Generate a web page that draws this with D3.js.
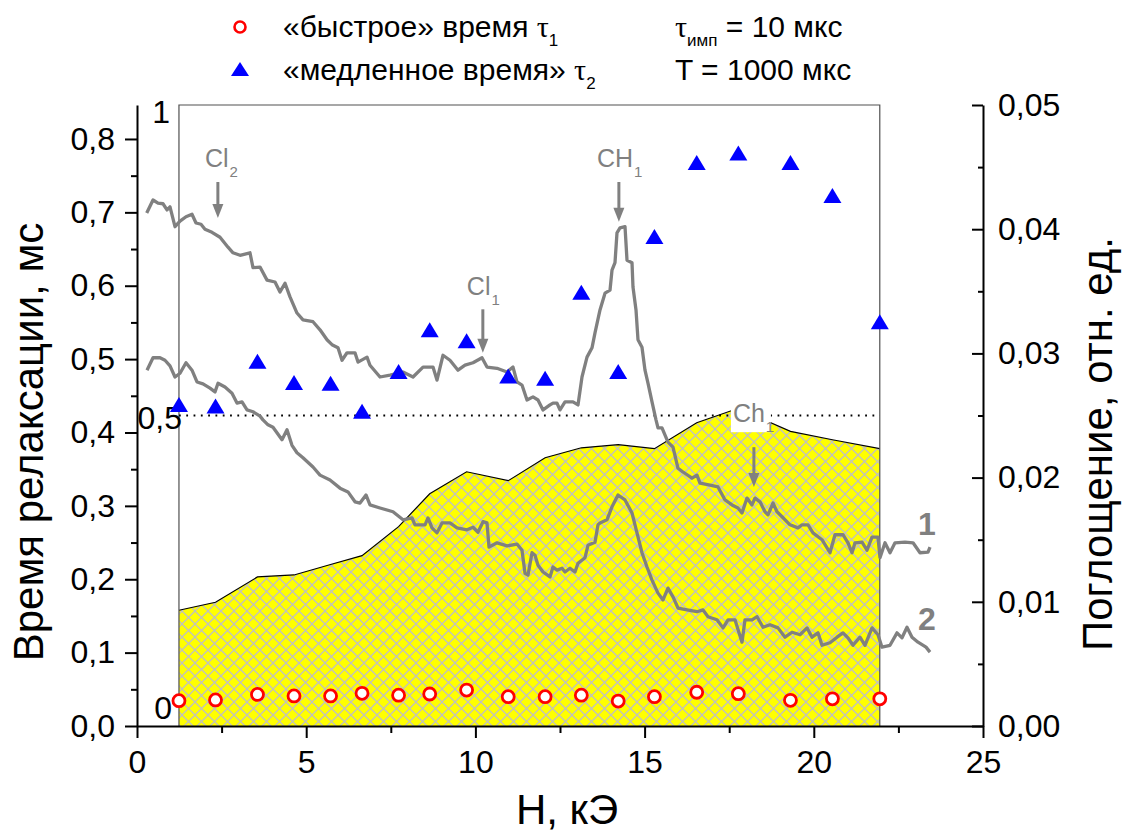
<!DOCTYPE html>
<html><head><meta charset="utf-8">
<script src="https://cdn.jsdelivr.net/npm/d3@7"></script>
<style>
body{margin:0;background:#fff}
svg{display:block}
text{font-family:"Liberation Sans",Arial,sans-serif}
</style>
</head><body>
<svg id="chart" width="1130" height="834"></svg>
<script>
// ---------------- data ----------------
const fieldKOe = [1.24, 2.32, 3.56, 4.64, 5.72, 6.65, 7.73, 8.65, 9.74, 10.97, 12.06, 13.13, 14.22, 15.29, 16.54, 17.77, 19.31, 20.55, 21.95];
const tauFast  = [0.0345, 0.0355, 0.043, 0.041, 0.041, 0.0445, 0.042, 0.0436, 0.049, 0.040, 0.040, 0.042, 0.034, 0.040, 0.046, 0.044, 0.035, 0.037, 0.037];
const tauSlow  = [0.438, 0.436, 0.497, 0.468, 0.467, 0.429, 0.483, 0.540, 0.525, 0.477, 0.474, 0.591, 0.483, 0.667, 0.768, 0.781, 0.768, 0.723, 0.551];
const absorption = [0.00932, 0.00996, 0.0120, 0.01216, 0.0130, 0.01372, 0.01605, 0.0187, 0.02047, 0.01975, 0.0216, 0.0224, 0.02265, 0.02233, 0.02442, 0.02558, 0.02372, 0.02305, 0.02233];

const curve1H = [0.287,0.473,0.621,0.768,0.887,0.975,1.123,1.271,1.448,1.625,1.744,1.891,2.009,2.216,2.453,2.689,2.837,3.044,3.339,3.428,3.635,3.842,4.078,4.226,4.374,4.521,4.728,4.905,5.201,5.408,5.615,5.762,5.940,6.058,6.206,6.442,6.531,6.797,6.885,7.181,7.476,7.861,8.156,8.452,8.747,8.865,9.043,9.249,9.486,9.693,9.929,10.195,10.343,10.638,10.934,11.111,11.229,11.377,11.525,11.702,11.850,11.998,12.204,12.293,12.411,12.500,12.648,12.884,13.032,13.150,13.298,13.446,13.534,13.682,13.830,13.978,14.037,14.125,14.184,14.273,14.421,14.480,14.628,14.657,14.746,14.805,14.923,15.012,15.100,15.219,15.337,15.396,15.514,15.691,15.839,15.987,16.135,16.401,16.548,16.637,16.933,17.169,17.376,17.583,17.760,17.878,18.026,18.174,18.262,18.410,18.558,18.647,18.794,18.913,19.061,19.297,19.533,19.652,19.829,19.976,20.242,20.479,20.626,20.863,21.011,21.129,21.218,21.425,21.572,21.720,21.897,21.956,22.104,22.252,22.400,22.695,22.932,23.138,23.375,23.434];
const curve1 = [0.826,0.847,0.842,0.841,0.831,0.836,0.804,0.813,0.820,0.824,0.810,0.808,0.800,0.795,0.787,0.771,0.762,0.758,0.762,0.738,0.739,0.718,0.715,0.699,0.713,0.691,0.665,0.654,0.651,0.638,0.622,0.614,0.609,0.589,0.601,0.601,0.586,0.594,0.581,0.562,0.565,0.570,0.562,0.578,0.578,0.557,0.597,0.589,0.573,0.581,0.585,0.593,0.578,0.576,0.570,0.578,0.554,0.549,0.525,0.530,0.525,0.509,0.517,0.520,0.520,0.509,0.522,0.522,0.517,0.562,0.594,0.609,0.633,0.670,0.697,0.702,0.734,0.746,0.794,0.802,0.804,0.750,0.746,0.707,0.670,0.622,0.610,0.573,0.552,0.522,0.493,0.480,0.480,0.457,0.449,0.415,0.409,0.399,0.404,0.391,0.388,0.385,0.364,0.356,0.351,0.343,0.367,0.356,0.367,0.361,0.345,0.340,0.359,0.345,0.337,0.324,0.319,0.324,0.324,0.311,0.300,0.279,0.308,0.308,0.295,0.279,0.295,0.296,0.283,0.304,0.304,0.271,0.295,0.279,0.295,0.296,0.295,0.279,0.280,0.288];

const curve2H = [0.296,0.473,0.680,0.827,0.975,1.123,1.271,1.448,1.625,1.773,1.950,2.157,2.305,2.394,2.600,2.807,2.955,3.103,3.251,3.428,3.635,3.723,3.871,4.019,4.285,4.433,4.580,4.728,4.905,5.201,5.408,5.703,5.999,6.235,6.442,6.590,6.767,6.885,7.181,7.565,7.861,8.126,8.215,8.511,8.599,8.717,8.865,9.013,9.249,9.456,9.752,9.929,10.077,10.225,10.343,10.402,10.638,10.934,11.229,11.377,11.466,11.554,11.673,11.761,11.850,11.998,12.204,12.293,12.411,12.559,12.648,12.796,12.943,13.032,13.239,13.327,13.534,13.623,13.682,13.889,14.037,14.214,14.421,14.628,14.775,14.923,15.071,15.219,15.396,15.544,15.691,15.839,15.987,16.253,16.548,16.726,16.873,17.139,17.317,17.465,17.671,17.878,17.967,18.174,18.322,18.499,18.706,18.942,19.149,19.356,19.593,19.799,19.947,20.124,20.242,20.479,20.686,20.863,21.011,21.158,21.365,21.513,21.720,21.897,22.015,22.252,22.459,22.607,22.754,22.902,23.079,23.316,23.434];
const curve2 = [0.573,0.593,0.593,0.589,0.580,0.562,0.568,0.585,0.573,0.554,0.551,0.544,0.538,0.552,0.546,0.536,0.520,0.522,0.509,0.506,0.499,0.493,0.485,0.481,0.461,0.477,0.452,0.440,0.432,0.417,0.404,0.396,0.383,0.377,0.361,0.359,0.372,0.356,0.351,0.345,0.332,0.335,0.324,0.324,0.335,0.319,0.311,0.327,0.327,0.319,0.316,0.320,0.312,0.329,0.327,0.288,0.295,0.290,0.293,0.283,0.246,0.243,0.279,0.275,0.259,0.248,0.240,0.256,0.251,0.254,0.248,0.254,0.248,0.262,0.271,0.291,0.296,0.324,0.327,0.332,0.353,0.372,0.364,0.343,0.311,0.279,0.256,0.235,0.214,0.203,0.222,0.208,0.190,0.187,0.184,0.187,0.176,0.171,0.158,0.171,0.171,0.135,0.171,0.171,0.176,0.159,0.163,0.158,0.143,0.151,0.147,0.158,0.143,0.150,0.130,0.134,0.143,0.150,0.142,0.130,0.143,0.130,0.158,0.147,0.127,0.130,0.150,0.142,0.159,0.143,0.135,0.127,0.119];

const xTickValues = [0, 5, 10, 15, 20, 25];
const leftTickValues = [0, 0.1, 0.2, 0.3, 0.4, 0.5, 0.6, 0.7, 0.8];
const rightTickValues = [0, 0.01, 0.02, 0.03, 0.04, 0.05];
const innerTickLabels = ["0", "0,5", "1"];
const innerTickValues = [0, 0.5, 1];

// peak annotations: label, sub, field (kOe), arrow top/bottom (inner units)
const peakNames = ["Cl", "Cl", "CH", "Ch"];
const peakSubs  = ["2", "1", "1", "1"];
const peakField = [2.39, 10.22, 14.24, 18.23];
const peakArrowTop = [0.876, 0.671, 0.876, 0.449];
const peakArrowTip = [0.818, 0.601, 0.812, 0.385];

const curveNames = ["1", "2"];

// ---------------- layout ----------------
const svg = d3.select("#chart");
const X0 = 137, X1 = 983, YB = 726, YT = 105;
const x = d3.scaleLinear().domain([0, 25]).range([X0, X1]);
const yL = d3.scaleLinear().domain([0, 0.8463]).range([YB, YT]);
const yR = d3.scaleLinear().domain([0, 0.05]).range([YB, YT]);
const yI = d3.scaleLinear().domain([0, 1]).range([YB, YT]);
const FONT = '"Liberation Sans",Arial,sans-serif';
const SERIF = '"Liberation Serif","Times New Roman",serif';
const GRAY = "#808080";

// hatch pattern
const defs = svg.append("defs");
const pat = defs.append("pattern").attr("id", "hatch").attr("patternUnits", "userSpaceOnUse")
  .attr("width", 13).attr("height", 13);
pat.append("rect").attr("width", 13).attr("height", 13).attr("fill", "#ffff00");
pat.append("path").attr("d", "M-1,-1L14,14M14,-1L-1,14").attr("stroke", "#c0c0c0").attr("stroke-width", 1.3);

// absorption area
const areaStart = fieldKOe[0], areaEnd = fieldKOe[fieldKOe.length - 1];
const absData = fieldKOe.map((h, i) => ({h, v: absorption[i]}));
svg.append("path").datum(absData)
  .attr("d", d3.area().x(d => x(d.h)).y0(yR(0)).y1(d => yR(d.v)))
  .attr("fill", "url(#hatch)");
svg.append("path").datum(absData)
  .attr("d", d3.line().x(d => x(d.h)).y(d => yR(d.v)))
  .attr("fill", "none").attr("stroke", "#000").attr("stroke-width", 1.2);

// inner frame (spectrum axes)
const iL = x(areaStart), iR = x(areaEnd);
svg.append("path").attr("d", `M${iL},${yI(0)}V${yI(1)}H${iR}V${yI(0)}`)
  .attr("fill", "none").attr("stroke", "#505050").attr("stroke-width", 1.2);
// dotted 0.5 line
svg.append("line").attr("x1", iL).attr("x2", iR).attr("y1", yI(0.5)).attr("y2", yI(0.5))
  .attr("stroke", "#000").attr("stroke-width", 1.8).attr("stroke-dasharray", "1.8,5.5");

// inner labels
const innerOff = [{dx: -7, dy: -7}, {dx: 3, dy: 13}, {dx: -9, dy: 18}];
innerTickValues.forEach((v, i) => {
  svg.append("text").attr("x", iL + innerOff[i].dx).attr("y", yI(v) + innerOff[i].dy)
    .attr("text-anchor", "end").attr("font-size", 32).attr("fill", "#000").text(innerTickLabels[i]);
});

// spectra curves
const lineGen = d3.line().x(d => x(d[0])).y(d => yI(d[1]));
[[curve1H, curve1], [curve2H, curve2]].forEach(([hs, vs]) => {
  svg.append("path").datum(hs.map((h, i) => [h, vs[i]])).attr("d", lineGen)
    .attr("fill", "none").attr("stroke", GRAY).attr("stroke-width", 3.3).attr("stroke-linejoin", "round");
});

// curve number labels
[0.308, 0.155].forEach((v, i) => {
  svg.append("text").attr("x", x(23.08)).attr("y", yI(v))
    .attr("font-size", 32).attr("font-weight", "bold").attr("fill", GRAY).text(curveNames[i]);
});

// tau2 triangles
fieldKOe.forEach((h, i) => {
  const cx = x(h), cy = yL(tauSlow[i]);
  svg.append("path").attr("d", `M${cx - 9},${cy + 7.5}L${cx + 9},${cy + 7.5}L${cx},${cy - 7.5}Z`).attr("fill", "#0000ff");
});
// tau1 circles
svg.selectAll("circle.t1").data(fieldKOe).enter().append("circle")
  .attr("cx", d => x(d)).attr("cy", (d, i) => yL(tauFast[i])).attr("r", 6)
  .attr("fill", "#fff").attr("stroke", "#ff0000").attr("stroke-width", 2.8);

// peak labels and arrows
const labelDX = [-13, -16, -22, -21];
const labelDY = [-15, -14, -15, -25];
peakNames.forEach((nm, i) => {
  const ax = x(peakField[i]);
  const yTop = yI(peakArrowTop[i]), yTip = yI(peakArrowTip[i]);
  if (i === 3) {
    svg.append("rect").attr("x", ax - 23).attr("y", yTop - 45).attr("width", 40).attr("height", 30).attr("fill", "#fff");
  }
  const t = svg.append("text").attr("x", ax + labelDX[i]).attr("y", yTop + labelDY[i])
    .attr("font-size", 25).attr("fill", GRAY);
  t.append("tspan").text(nm);
  t.append("tspan").attr("font-size", 15).attr("dy", 10).attr("dx", 1).text(peakSubs[i]);
  svg.append("line").attr("x1", ax).attr("x2", ax).attr("y1", yTop).attr("y2", yTip - 11)
    .attr("stroke", GRAY).attr("stroke-width", 3);
  svg.append("path").attr("d", `M${ax - 5.5},${yTip - 14}L${ax + 5.5},${yTip - 14}L${ax},${yTip}Z`).attr("fill", GRAY);
});

// ---------------- axes ----------------
function styleAxis(g) {
  g.attr("font-family", FONT).attr("font-size", 32);
  g.select(".domain").attr("stroke", "#000").attr("stroke-width", 2);
  g.selectAll(".tick line").attr("stroke", "#000").attr("stroke-width", 2);
  g.selectAll(".tick text").attr("fill", "#000");
}
const fmt1 = d => d3.format(".1f")(d).replace(".", ",");
const fmt2 = d => d3.format(".2f")(d).replace(".", ",");

// minor ticks
const leftMinor = d3.range(0.05, 0.85, 0.1);
svg.append("g").attr("transform", `translate(${X0},0)`)
  .call(d3.axisLeft(yL).tickValues(leftMinor).tickSize(6).tickFormat("").tickSizeOuter(0))
  .call(g => { g.select(".domain").remove(); g.selectAll("line").attr("stroke", "#000").attr("stroke-width", 2); });
const rightMinor = d3.range(0.005, 0.05, 0.01);
svg.append("g").attr("transform", `translate(${X1},0)`)
  .call(d3.axisRight(yR).tickValues(rightMinor).tickSize(-5).tickFormat("").tickSizeOuter(0))
  .call(g => { g.select(".domain").remove(); g.selectAll("line").attr("stroke", "#000").attr("stroke-width", 2); });
const xMinor = d3.range(2.5, 25, 5);
svg.append("g").attr("transform", `translate(0,${YB})`)
  .call(d3.axisBottom(x).tickValues(xMinor).tickSize(7).tickFormat("").tickSizeOuter(0))
  .call(g => { g.select(".domain").remove(); g.selectAll("line").attr("stroke", "#000").attr("stroke-width", 2); });

svg.append("g").attr("transform", `translate(${X0},0)`)
  .call(d3.axisLeft(yL).tickValues(leftTickValues).tickSize(12).tickPadding(10).tickFormat(fmt1).tickSizeOuter(0))
  .call(styleAxis);
svg.append("g").attr("transform", `translate(${X1},0)`)
  .call(d3.axisRight(yR).tickValues(rightTickValues).tickSizeInner(-11).tickSizeOuter(0).tickPadding(15).tickFormat(fmt2))
  .call(styleAxis);
svg.append("g").attr("transform", `translate(0,${YB})`)
  .call(d3.axisBottom(x).tickValues(xTickValues).tickSize(12).tickPadding(12).tickFormat(d3.format("d")).tickSizeOuter(0))
  .call(styleAxis);

// axis titles
svg.append("text").attr("transform", "translate(43,442) rotate(-90)").attr("text-anchor", "middle")
  .attr("font-size", 42).attr("fill", "#000").text("Время релаксации, мс");
svg.append("text").attr("transform", "translate(1112,444) rotate(-90)").attr("text-anchor", "middle")
  .attr("font-size", 42).attr("fill", "#000").text("Поглощение, отн. ед.");
svg.append("text").attr("x", 567).attr("y", 824).attr("text-anchor", "middle")
  .attr("font-size", 42).attr("fill", "#000").text("H, кЭ");

// ---------------- legend ----------------
const legendNames = ["«быстрое» время ", "«медленное время» "];
const legendSubs = ["1", "2"];
const legY = [27, 70];
svg.append("circle").attr("cx", 240).attr("cy", legY[0]).attr("r", 5.5).attr("fill", "#fff")
  .attr("stroke", "#ff0000").attr("stroke-width", 2.6);
svg.append("path").attr("d", `M231,${legY[1] + 6}L249,${legY[1] + 6}L240,${legY[1] - 8}Z`).attr("fill", "#0000ff");
legendNames.forEach((nm, i) => {
  const t = svg.append("text").attr("x", 283).attr("y", legY[i] + 10).attr("font-size", 30).attr("fill", "#000");
  t.append("tspan").text(nm);
  t.append("tspan").attr("font-family", SERIF).text("τ");
  t.append("tspan").attr("font-size", 17).attr("dy", 9).text(legendSubs[i]);
});
const p1 = svg.append("text").attr("x", 675).attr("y", legY[0] + 10).attr("font-size", 30).attr("fill", "#000");
p1.append("tspan").attr("font-family", SERIF).text("τ");
p1.append("tspan").attr("font-size", 17).attr("dy", 9).text("имп");
p1.append("tspan").attr("dy", -9).text(" = 10 мкс");
svg.append("text").attr("x", 675).attr("y", legY[1] + 10).attr("font-size", 30).attr("fill", "#000").text("T = 1000 мкс");
</script>
</body></html>
